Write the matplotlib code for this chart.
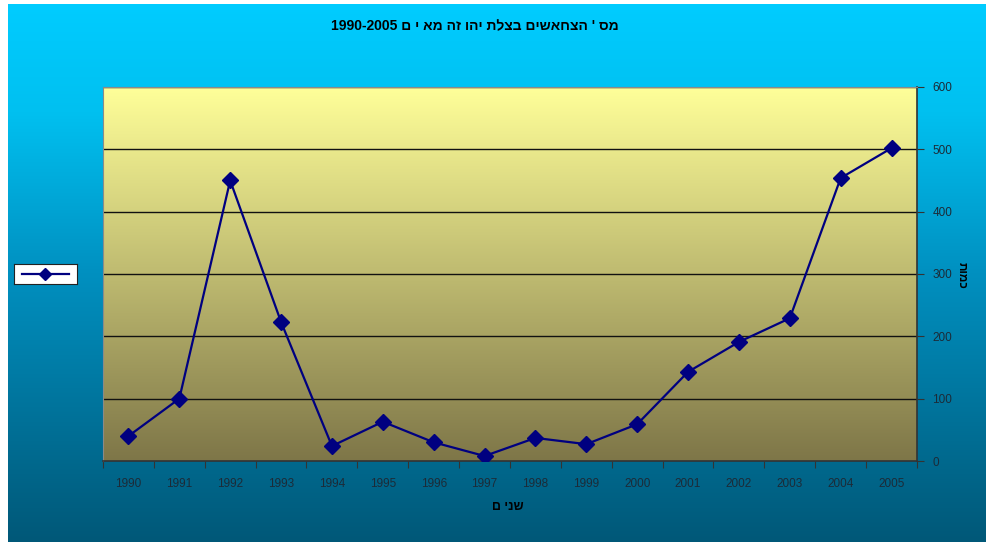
#!/usr/bin/env python3
import numpy as np
import matplotlib.pyplot as plt
from matplotlib.colors import LinearSegmentedColormap
from matplotlib.lines import Line2D

plt.rcParams['font.family'] = ['Liberation Sans', 'DejaVu Sans']

years = [str(y) for y in range(1990, 2006)]
counts = [40, 100, 450, 223, 24, 63, 30, 8, 37, 27, 59, 143, 191, 229, 454, 502]

# Hebrew strings are stored in visual (left-to-right) order, matplotlib has no bidi
title_text = '1990-2005 ' + 'מס \' הצחאשים בצלת יהו זה מא י ם'[::-1]
xlabel_text = 'שני ם'[::-1]
ylabel_text = 'כמות'[::-1]


def vertical_gradient(top, bottom):
    return LinearSegmentedColormap.from_list('g', [bottom, top])


fig = plt.figure(figsize=(9.87, 5.42), dpi=100)
fig.patch.set_facecolor('white')

# outer gradient background
bg = fig.add_axes([8 / 987, 0, 1 - 8 / 987, 1 - 4 / 542], zorder=0)
grad = np.linspace(0, 1, 256).reshape(-1, 1)
bg.imshow(grad, aspect='auto', origin='lower', extent=[0, 1, 0, 1],
          cmap=LinearSegmentedColormap.from_list(
              'bg', [(0, '#005878'), (0.5, '#0090C0'), (0.8, '#00C0F0'), (1, '#00CCFF')]))
bg.set_axis_off()

# plot area
left, right, top, bottom = 103, 917, 87, 461
ax = fig.add_axes([left / 987, 1 - bottom / 542, (right - left) / 987, (bottom - top) / 542],
                  zorder=1)
x = np.arange(len(years))
ax.set_xlim(-0.5, len(years) - 0.5)
ax.set_ylim(0, 600)
ax.imshow(grad, aspect='auto', origin='lower', extent=[-0.5, len(years) - 0.5, 0, 600],
          cmap=vertical_gradient('#FFFF99', '#7E7648'), zorder=0)

for yv in range(100, 700, 100):
    ax.axhline(yv, color='#111111', linewidth=1.0, zorder=1)

ax.plot(x, counts, color='#000080', linewidth=1.6, marker='D', markersize=8,
        markerfacecolor='#000080', markeredgecolor='#000080', zorder=3)

# category axis with ticks between categories
ax.set_xticks(np.arange(-0.5, len(years), 1.0))
ax.set_xticklabels([])
ax.set_xticks(x, minor=True)
ax.set_xticklabels(years, minor=True, fontsize=8.5, color='#1c2b38')
ax.tick_params(axis='x', which='major', direction='out', length=5, color='#333333')
ax.tick_params(axis='x', which='minor', length=0, pad=12)

ax.yaxis.tick_right()
ax.set_yticks(range(0, 700, 100))
ax.tick_params(axis='y', direction='out', length=5, color='#333333', labelsize=8.5,
               labelcolor='#1c2b38', pad=6)

for side in ['left', 'top']:
    ax.spines[side].set_color('#8a8a8a')
for side in ['right', 'bottom']:
    ax.spines[side].set_color('#333333')
    ax.spines[side].set_linewidth(1.2)

fig.text(475 / 987, 1 - 26 / 542, title_text, ha='center', va='center',
         fontsize=10, fontweight='bold', color='black')
fig.text(508 / 987, 1 - 507 / 542, xlabel_text, ha='center', va='center',
         fontsize=9, fontweight='bold', color='black')
fig.text(962 / 987, 1 - 275 / 542, ylabel_text, ha='center', va='center',
         fontsize=8.5, fontweight='bold', color='black', rotation=270)

# legend box without text
leg_ax = fig.add_axes([14 / 987, 1 - 284 / 542, 63 / 987, 20 / 542], zorder=2)
leg_ax.set_xlim(0, 1)
leg_ax.set_ylim(0, 1)
leg_ax.set_facecolor('white')
leg_ax.add_line(Line2D([0.12, 0.88], [0.5, 0.5], color='#000080', linewidth=1.6))
leg_ax.plot([0.5], [0.5], marker='D', markersize=6, color='#000080')
leg_ax.set_xticks([])
leg_ax.set_yticks([])
for s in leg_ax.spines.values():
    s.set_color('#222222')

fig.savefig('out.png', dpi=100)
